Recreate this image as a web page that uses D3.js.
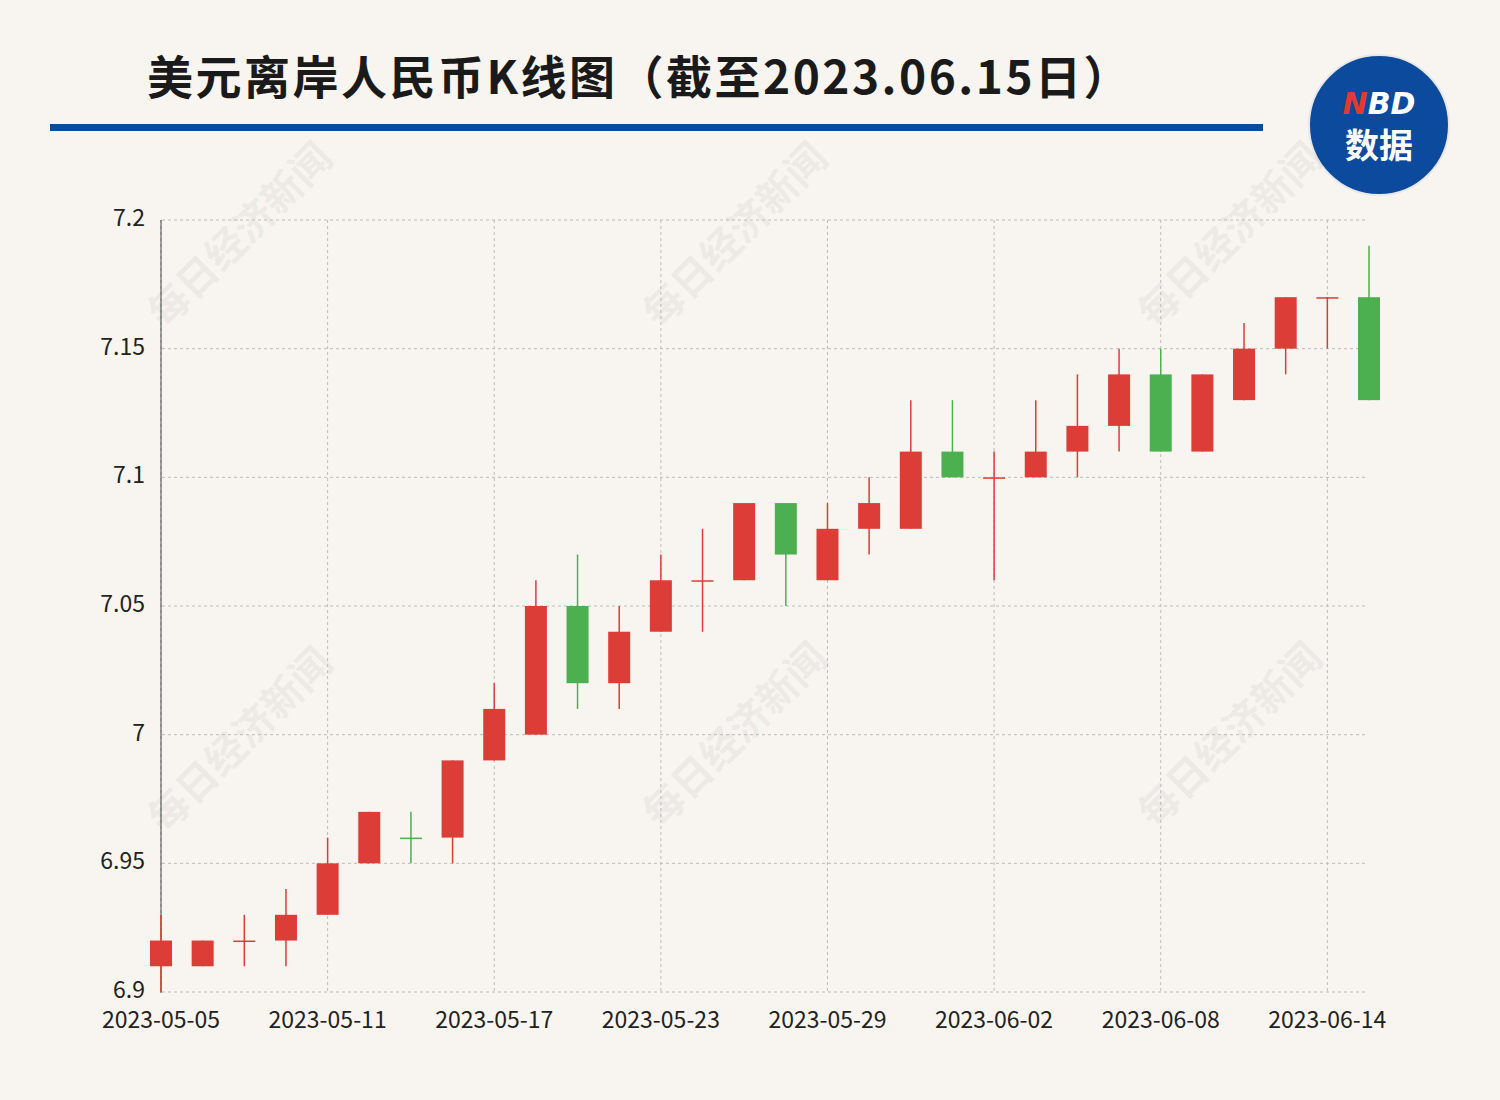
<!DOCTYPE html>
<html><head><meta charset="utf-8">
<script src="https://cdn.jsdelivr.net/npm/d3@7/dist/d3.min.js"></script>
<style>body{margin:0;background:#f8f5f0}</style></head>
<body><svg id="c" width="1500" height="1100"></svg>
<script>
const dates=["2023-05-05","2023-05-08","2023-05-09","2023-05-10","2023-05-11","2023-05-12","2023-05-15","2023-05-16","2023-05-17","2023-05-18","2023-05-19","2023-05-22","2023-05-23","2023-05-24","2023-05-25","2023-05-26","2023-05-29","2023-05-30","2023-05-31","2023-06-01","2023-06-02","2023-06-05","2023-06-06","2023-06-07","2023-06-08","2023-06-09","2023-06-12","2023-06-13","2023-06-14","2023-06-15"];
const open =[6.91,6.91,6.92,6.92,6.93,6.95,6.96,6.96,6.99,7.00,7.05,7.02,7.04,7.06,7.06,7.09,7.06,7.08,7.08,7.11,7.10,7.10,7.11,7.12,7.14,7.11,7.13,7.15,7.17,7.17];
const close=[6.92,6.92,6.92,6.93,6.95,6.97,6.96,6.99,7.01,7.05,7.02,7.04,7.06,7.06,7.09,7.07,7.08,7.09,7.11,7.10,7.10,7.11,7.12,7.14,7.11,7.14,7.15,7.17,7.17,7.13];
const low  =[6.90,6.91,6.91,6.91,6.93,6.95,6.95,6.95,6.99,7.00,7.01,7.01,7.04,7.04,7.06,7.05,7.06,7.07,7.08,7.10,7.06,7.10,7.10,7.11,7.11,7.11,7.13,7.14,7.15,7.13];
const high =[6.93,6.92,6.93,6.94,6.96,6.97,6.97,6.99,7.02,7.06,7.07,7.05,7.07,7.08,7.09,7.09,7.09,7.10,7.13,7.13,7.11,7.13,7.14,7.15,7.15,7.14,7.16,7.17,7.17,7.19];
const down=[false,false,false,false,false,false,true,false,false,false,true,false,false,false,false,true,false,false,false,true,false,false,false,false,true,false,false,false,false,true];
const yTicks=[6.9,6.95,7,7.05,7.1,7.15,7.2];
const svg=d3.select("#c");
const F="'Noto Sans CJK SC','Noto Sans',sans-serif";
svg.append("rect").attr("width",1500).attr("height",1100).attr("fill","#f8f5f0");
svg.append("text").attr("x",147).attr("y",94).attr("font-family",F).attr("font-weight","bold").attr("font-size",46).attr("letter-spacing",2.5).attr("fill","#1a1a1a").text("美元离岸人民币K线图（截至2023.06.15日）");
svg.append("rect").attr("x",50).attr("y",124).attr("width",1213).attr("height",7).attr("fill","#0b4a9c");
const lg=svg.append("g");
lg.append("circle").attr("cx",1379).attr("cy",125).attr("r",70).attr("fill","#0b4a9c").attr("stroke","#e8e8e8").attr("stroke-width",2);
const t=lg.append("text").attr("x",1379).attr("y",114).attr("text-anchor","middle").attr("font-family","'DejaVu Sans',sans-serif").attr("font-weight","bold").attr("font-style","italic").attr("font-size",30);
t.append("tspan").attr("fill","#e03a32").text("N");t.append("tspan").attr("fill","#fff").text("BD");
lg.append("text").attr("x",1379).attr("y",158).attr("text-anchor","middle").attr("font-family",F).attr("font-weight","bold").attr("font-size",34).attr("fill","#fff").text("数据");
[[250,750],[745,245],[745,745],[1240,245],[1240,745],[250,245]].forEach(([x,y])=>{
 svg.append("text").attr("transform",`translate(${x},${y}) rotate(-45)`).attr("text-anchor","middle").attr("font-family",F).attr("font-weight","bold").attr("font-size",40).attr("fill","#000").attr("opacity",0.04).text("每日经济新闻");
});
const x=d3.scalePoint().domain(dates).range([161,1369]);
const y=d3.scaleLinear().domain([6.9,7.2]).range([992,220]);
const g=svg.append("g");
yTicks.forEach(v=>{g.append("line").attr("x1",162).attr("x2",1366).attr("y1",y(v)).attr("y2",y(v)).attr("stroke","#bbb").attr("stroke-dasharray","3,3");
 g.append("text").attr("x",145).attr("y",y(v)+6).attr("text-anchor","end").attr("font-family",F).attr("font-size",23).attr("fill","#222").text(String(+v.toFixed(2)));});
const xt=dates.filter((d,i)=>i%4===0&&i<29);
xt.forEach(d=>{g.append("line").attr("x1",x(d)).attr("x2",x(d)).attr("y1",220).attr("y2",992).attr("stroke","#bbb").attr("stroke-dasharray","3,3");
 g.append("text").attr("x",x(d)).attr("y",1028).attr("text-anchor","middle").attr("font-family",F).attr("font-size",23).attr("fill","#222").text(d);});
g.append("line").attr("x1",161).attr("x2",161).attr("y1",220).attr("y2",993).attr("stroke","#444");
const bw=22;
dates.forEach((d,i)=>{
 const c=down[i]?"#4caf50":"#dc3d37";
 g.append("line").attr("x1",x(d)).attr("x2",x(d)).attr("y1",y(high[i])).attr("y2",y(low[i])).attr("stroke",c).attr("stroke-width",1.5);
 const top=y(Math.max(open[i],close[i])),bot=y(Math.min(open[i],close[i]));
 g.append("rect").attr("x",x(d)-bw/2).attr("y",top).attr("width",bw).attr("height",Math.max(bot-top,1.5)).attr("fill",c);
});
</script></body></html>
